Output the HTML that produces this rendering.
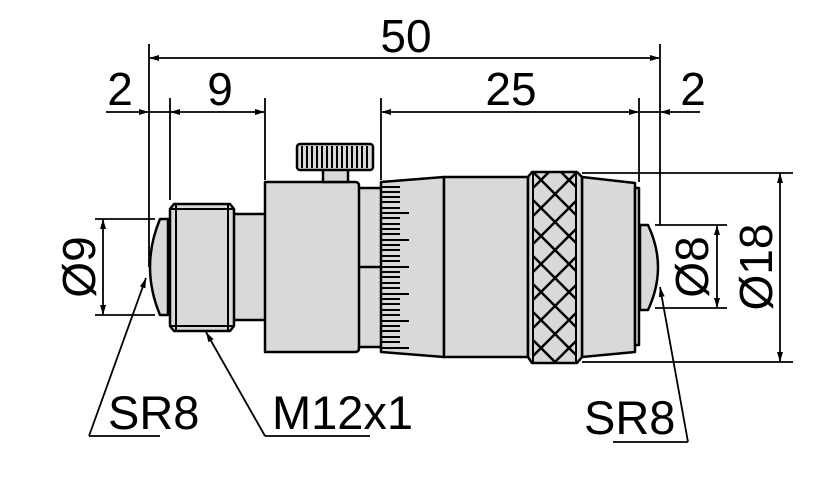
<!DOCTYPE html>
<html><head><style>body{margin:0;background:#fff}svg{display:block}text{font-family:"Liberation Sans",sans-serif;fill:#000}</style></head>
<body>
<svg width="833" height="494" viewBox="0 0 833 494" xmlns="http://www.w3.org/2000/svg">
<defs>
<marker id="a" viewBox="0 0 10 6" refX="10" refY="3" markerWidth="10" markerHeight="6" orient="auto-start-reverse" markerUnits="userSpaceOnUse"><path d="M0,0 L10,3 L0,6 Z" fill="#000"/></marker>
<clipPath id="k"><rect x="533" y="172" width="43" height="191"/></clipPath>
</defs>
<g stroke="#000" stroke-width="2.5" fill="#d9d9d9" stroke-linejoin="round">
<path d="M168,219 L160,219 Q140,267 160,315 L168,315 Z"/>
<rect x="232" y="214" width="34" height="106"/>
<path d="M174,204 L230,204 L234,209 L234,326 L230,331 L174,331 L170,326 L170,209 Z"/>
<path d="M176,205 V330 M228,205 V330 M171,209 H233 M171,326 H233" fill="none" stroke-width="2"/>
<rect x="357" y="188" width="26" height="159"/>
<line x1="357" y1="267" x2="383" y2="267"/>
<path d="M265,182 L355,182 Q359,182 359,186 L359,348 Q359,352 355,352 L265,352 Z"/>
<rect x="323" y="169" width="25" height="13"/>
<rect x="297" y="144" width="76" height="26" rx="3"/>
<path d="M381,182 L444,177 L444,357 L381,352 Z"/>
<rect x="444" y="177" width="84" height="180"/>
<path d="M582,177 L635,183 L635,352 L582,357 Z"/>
<rect x="635" y="188" width="4" height="157"/>
<path d="M640,225 L648,225 Q668,267 648,310 L640,310 Z"/>
<path d="M532,172 L577,172 L582,177 L582,357 L577,363 L532,363 L528,357 L528,177 Z"/>
</g>
<g stroke="#000" stroke-width="2" fill="none">
<path d="M533,173 V362 M576,173 V362"/>
<g clip-path="url(#k)" stroke-width="2.5">
<path d="M505,172 l80,80 M505,200 l80,80 M505,228 l80,80 M505,256 l80,80 M505,284 l80,80 M505,312 l80,80 M505,144 l80,80 M505,116 l80,80 M505,340 l80,80
M605,172 l-80,80 M605,200 l-80,80 M605,228 l-80,80 M605,256 l-80,80 M605,284 l-80,80 M605,312 l-80,80 M605,144 l-80,80 M605,116 l-80,80 M605,340 l-80,80"/>
</g>
<path d="M302,146V168 M307,146V168 M312,146V168 M317,146V168 M322,146V168 M327,146V168 M332,146V168 M337,146V168 M342,146V168 M347,146V168 M352,146V168 M357,146V168 M362,146V168 M367,146V168"/>
<path d="M382,187h18 M382,192h18 M382,197h18 M382,202h18 M382,208h18 M382,213h27 M382,218h18 M382,224h18 M382,229h18 M382,234h18 M382,240h27 M382,245h18 M382,250h18 M382,256h18 M382,261h18 M382,267h27 M382,272h18 M382,277h18 M382,283h18 M382,288h18 M382,294h27 M382,299h18 M382,304h18 M382,310h18 M382,315h18 M382,321h27 M382,326h18 M382,331h18 M382,337h18 M382,342h18 M382,348h27"/>
</g>
<g stroke="#000" stroke-width="1.8" fill="none">
<path d="M149,44 V267 M660,44 V225 M170,98 V200 M265,98 V180 M381,98 V180 M639,98 V182"/>
<line x1="149" y1="58" x2="660" y2="58" marker-start="url(#a)" marker-end="url(#a)"/>
<line x1="106" y1="112" x2="149" y2="112" marker-end="url(#a)"/>
<line x1="149" y1="112" x2="170" y2="112"/>
<line x1="170" y1="112" x2="265" y2="112" marker-start="url(#a)" marker-end="url(#a)"/>
<line x1="381" y1="112" x2="639" y2="112" marker-start="url(#a)" marker-end="url(#a)"/>
<line x1="639" y1="112" x2="660" y2="112"/>
<line x1="700" y1="112" x2="660" y2="112" marker-end="url(#a)"/>
<path d="M95,219 H155 M95,315 H155"/>
<line x1="103" y1="219" x2="103" y2="315" marker-start="url(#a)" marker-end="url(#a)"/>
<path d="M582,173 H793 M582,362 H793 M655,225 H727 M655,308 H727"/>
<line x1="780" y1="173" x2="780" y2="362" marker-start="url(#a)" marker-end="url(#a)"/>
<line x1="717" y1="225" x2="717" y2="308" marker-start="url(#a)" marker-end="url(#a)"/>
<line x1="89" y1="436" x2="146" y2="278" marker-end="url(#a)"/>
<line x1="89" y1="436" x2="160" y2="436"/>
<line x1="265" y1="436" x2="206" y2="332" marker-end="url(#a)"/>
<line x1="265" y1="436" x2="370" y2="436"/>
<line x1="688" y1="442" x2="660" y2="287" marker-end="url(#a)"/>
<line x1="613" y1="442" x2="688" y2="442"/>
</g>
<g font-size="46">
<text x="406" y="52" text-anchor="middle">50</text>
<text x="120" y="105" text-anchor="middle">2</text>
<text x="220" y="105" text-anchor="middle">9</text>
<text x="511" y="105" text-anchor="middle">25</text>
<text x="693" y="105" text-anchor="middle">2</text>
<text transform="translate(95,267) rotate(-90)" text-anchor="middle">Ø9</text>
<text transform="translate(708,267) rotate(-90)" text-anchor="middle">Ø8</text>
<text transform="translate(772,267) rotate(-90)" text-anchor="middle">Ø18</text>
</g>
<g font-size="47">
<text x="108" y="429">SR8</text>
<text x="272" y="429">M12x1</text>
<text x="584" y="434">SR8</text>
</g>
</svg>
</body></html>
